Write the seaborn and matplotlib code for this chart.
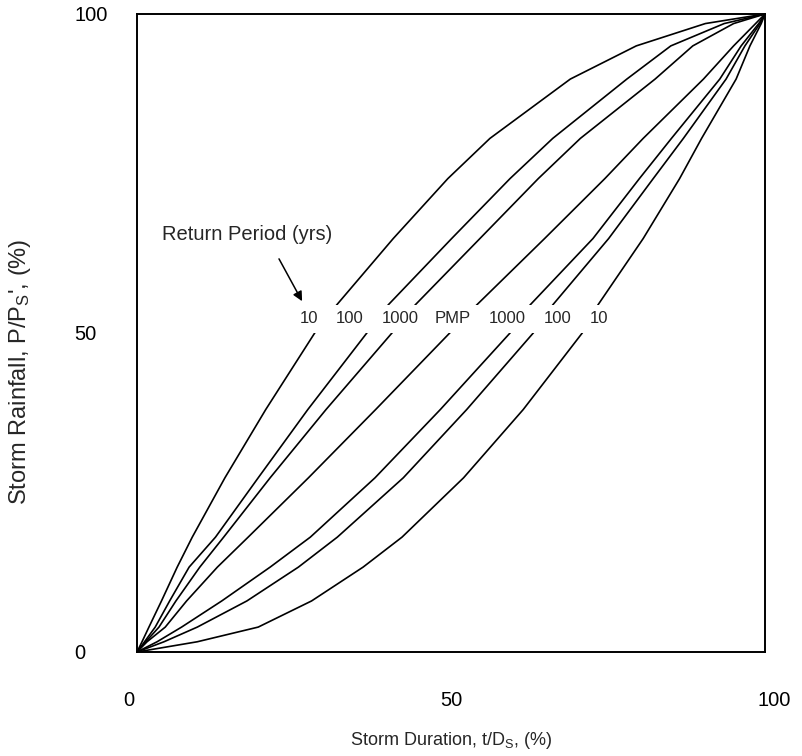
import numpy as np
import pandas as pd
import matplotlib
matplotlib.use('Agg')
import matplotlib.pyplot as plt
import matplotlib.transforms as mtransforms
import seaborn as sns

# storm rainfall levels (% of total) at which the curves were read
rain_pct = [0, 1.6, 3.9, 8.0, 13.3, 18.0, 27.3, 38.0, 50.0, 54.4,
            64.8, 74.2, 80.5, 89.8, 95.0, 98.5, 100]

# storm duration (%) for each curve at those rainfall levels
dur_10_early = [0, 0.8, 1.9, 3.9, 6.4, 8.8, 14.0, 20.5, 28.3, 31.8,
                40.8, 49.5, 56.2, 69.0, 79.5, 90.5, 100]
dur_100_early = [0, 1.2, 2.9, 5.2, 8.3, 12.5, 19.3, 27.2, 36.6, 40.0,
                 50.1, 59.4, 66.2, 78.0, 85.0, 93.5, 100]
dur_1000_early = [0, 1.4, 3.5, 6.2, 10.0, 13.8, 21.2, 30.1, 40.6, 44.3,
                  54.6, 63.9, 70.6, 82.5, 88.5, 95.0, 100]
dur_pmp = [0, 1.6, 4.5, 7.9, 12.8, 17.7, 27.3, 38.0, 49.8, 54.1,
           64.9, 74.5, 80.6, 90.2, 95.0, 98.5, 100]
dur_1000_late = [0, 3.2, 7.1, 13.5, 21.2, 27.6, 37.9, 48.3, 59.4, 62.6,
                 72.6, 80.0, 85.1, 92.8, 96.2, 99.0, 100]
dur_100_late = [0, 4.3, 9.6, 17.5, 25.7, 31.9, 42.4, 52.5, 63.1, 66.2,
                75.1, 82.2, 87.0, 93.8, 96.8, 99.2, 100]
dur_10_late = [0, 9.6, 19.3, 27.8, 36.0, 42.2, 52.0, 61.5, 70.9, 73.4,
               80.6, 86.4, 89.9, 95.4, 97.6, 99.4, 100]

curve_names = ['10a', '100a', '1000a', 'PMP', '1000b', '100b', '10b']
curve_labels = ['10', '100', '1000', 'PMP', '1000', '100', '10']
label_x = [27.4, 33.8, 41.9, 50.3, 58.9, 67.0, 73.6]
label_y = 52.2

ticks = [0, 50, 100]

curves = [dur_10_early, dur_100_early, dur_1000_early, dur_pmp,
          dur_1000_late, dur_100_late, dur_10_late]
rows = []
for name, durs in zip(curve_names, curves):
    for d, r in zip(durs, rain_pct):
        rows.append({'curve': name, 'duration': d, 'rainfall': r})
df = pd.DataFrame(rows)

sns.set_theme(style='white')
plt.rcParams['font.family'] = ['Liberation Sans', 'DejaVu Sans']
plt.rcParams['mathtext.default'] = 'regular'

fig = plt.figure(figsize=(8.03, 7.56), dpi=100)
ax = fig.add_axes([0.1706, 0.1376, 0.7821, 0.8439])

sns.lineplot(data=df, x='duration', y='rainfall', hue='curve', hue_order=curve_names,
             palette=['black'] * 7, legend=False, sort=False, estimator=None,
             linewidth=1.2, ax=ax, zorder=2)

# white band where the curves are broken for the labels
ax.axhspan(50.0, 54.4, xmin=0.24, xmax=0.78, color='white', zorder=3, lw=0)
for lx, lab in zip(label_x, curve_labels):
    ax.text(lx, label_y, lab, ha='center', va='center', fontsize=12, zorder=4)

ax.text(4.0, 65.5, 'Return Period (yrs)', ha='left', va='center', fontsize=14.5, zorder=4)
ax.annotate('', xy=(26.5, 54.6), xytext=(22.4, 62.0),
            arrowprops=dict(arrowstyle='-|>', color='black', lw=1.1,
                            mutation_scale=14), zorder=4)

ax.set_xlim(0, 100)
ax.set_ylim(0, 100)
ax.set_xticks(ticks)
ax.set_yticks(ticks)
ax.set_xticklabels([str(t) for t in ticks], fontsize=14.5)
ax.set_yticklabels([str(t) for t in ticks], fontsize=14.5, ha='left')
ax.tick_params(axis='x', direction='out', length=4, width=1.2, pad=24, colors='black')
ax.tick_params(axis='y', direction='out', length=4, width=1.2, pad=41, colors='black')

# outer x tick labels sit a little wider than their ticks
xlabs = ax.get_xticklabels()
xlabs[0].set_transform(xlabs[0].get_transform() +
                       mtransforms.ScaledTranslation(-8 / 100, 0, fig.dpi_scale_trans))
xlabs[-1].set_transform(xlabs[-1].get_transform() +
                        mtransforms.ScaledTranslation(9 / 100, 0, fig.dpi_scale_trans))

for sp in ax.spines.values():
    sp.set_visible(True)
    sp.set_color('black')
    sp.set_linewidth(1.4)

ax.set_xlabel("Storm Duration, t/D$_S$, (%)", fontsize=13)
ax.xaxis.set_label_coords(0.5, -0.122)
ax.set_ylabel("Storm Rainfall, P/P$_S$', (%)", fontsize=17)
ax.yaxis.set_label_coords(-0.165, 0.44)

fig.savefig('out.png', dpi=100, facecolor='white')
